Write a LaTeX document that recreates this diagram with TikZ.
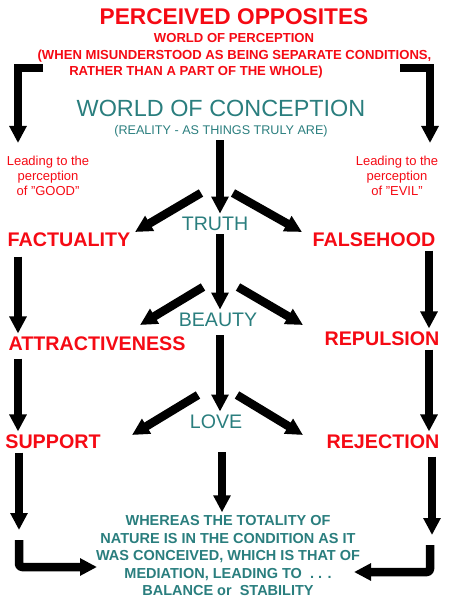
\documentclass[tikz,border=0pt]{standalone}
\usepackage{fontspec}
\setmainfont{Liberation Sans}
\usetikzlibrary{arrows.meta}
\definecolor{percred}{RGB}{245,10,20}
\definecolor{concteal}{RGB}{42,126,126}

\tikzset{
  flow/.style={line width=8.5pt, -{Triangle[length=17pt,width=16.5pt]}},
  bent/.style={flow, line join=round, rounded corners=3pt},
  redword/.style={text=percred, font=\bfseries\fontsize{19.7}{22}\selectfont},
  tealword/.style={text=concteal, font=\fontsize{19.6}{22}\selectfont},
  redsmall/.style={text=percred, font=\bfseries\fontsize{13.1}{15}\selectfont},
  leadnote/.style={text=percred, align=center, font=\fontsize{13}{15}\selectfont}
}

\begin{document}
\begin{tikzpicture}[x=1pt, y=-1pt]
\useasboundingbox (0,0) rectangle (450,609);

\coordinate (colL) at (18,0);
\coordinate (colR) at (429,0);
\coordinate (axis) at (220,0);

% headings
\node[text=percred, font=\bfseries\fontsize{22.7}{24}\selectfont] (title) at (234,17) {PERCEIVED OPPOSITES};
\node[redsmall] (perc) at (234,38) {WORLD OF PERCEPTION};
\node[redsmall] (when) at (234.5,56) {(WHEN MISUNDERSTOOD AS BEING SEPARATE CONDITIONS,};
\node[redsmall] (rather) at (196,72) {RATHER THAN A PART OF THE WHOLE)};
\node[text=concteal, font=\fontsize{23.4}{26}\selectfont] (concept) at (221,108) {WORLD OF CONCEPTION};
\node[text=concteal, font=\fontsize{12.6}{14}\selectfont] (reality) at (221,131) {(REALITY - AS THINGS TRULY ARE)};

\node[leadnote] (good) at (48,176) {Leading to the\\perception\\of {\char34}GOOD{\char34}};
\node[leadnote] (evil) at (397,176) {Leading to the\\perception\\of {\char34}EVIL{\char34}};

% the three levels
\node[tealword] (truth) at (215,224) {TRUTH};
\node[tealword] (beauty) at (218,320) {BEAUTY};
\node[tealword] (love) at (216,422) {LOVE};

\node[redword] (fact) at (69,240) {FACTUALITY};
\node[redword] (attr) at (97,344) {ATTRACTIVENESS};
\node[redword] (supp) at (53,442) {SUPPORT};

\node[redword] (false) at (374,240) {FALSEHOOD};
\node[redword] (repul) at (382,339) {REPULSION};
\node[redword] (reject) at (383,442) {REJECTION};

\node[text=concteal, align=center, font=\bfseries\fontsize{14.5}{17.5}\selectfont] (whole) at (228,556)
  {WHEREAS THE TOTALITY OF\\NATURE IS IN THE CONDITION AS IT\\WAS CONCEIVED, WHICH IS THAT OF\\MEDIATION, LEADING TO \ . . .\\BALANCE or \ STABILITY};

% free ends of the connectors
\coordinate (topL) at (43,68);
\coordinate (topR) at (400,68);
\coordinate (endL) at (18,143);
\coordinate (endR) at (430,143);
\coordinate (tA) at (201,193);
\coordinate (tB) at (233,193);
\coordinate (tC) at (135,232);
\coordinate (tD) at (302,232);
\coordinate (bA) at (203,287);
\coordinate (bB) at (238,287);
\coordinate (bC) at (140,325);
\coordinate (bD) at (303,325);
\coordinate (lA) at (198,395);
\coordinate (lB) at (237,395);
\coordinate (lC) at (132,435);
\coordinate (lD) at (303,435);
\coordinate (supEnd) at (19,530);
\coordinate (rejEnd) at (432,535);
\coordinate (cornL) at (19,540);
\coordinate (cornR) at (430,545);
\coordinate (inL) at (97,567);
\coordinate (inR) at (354,572);

\draw[flow, line join=miter] (topL) -- (endL |- topL) -- (endL);
\draw[flow, line join=miter] (topR) -- (endR |- topR) -- (endR);

\draw[flow] (reality.south -| axis) -- (truth.north -| axis);
\draw[flow] (tA) -- (tC);
\draw[flow] (tB) -- (tD);
\draw[flow] (truth.south -| axis) -- (beauty.north -| axis);
\draw[flow] (bA) -- (bC);
\draw[flow] (bB) -- (bD);
\draw[flow, shorten <=5pt] (beauty.south -| axis) -- (love.north -| axis);
\draw[flow] (lA) -- (lC);
\draw[flow] (lB) -- (lD);
\draw[flow, shorten <=20pt] ([xshift=2pt]love.south -| axis) -- ([xshift=2pt]whole.north -| axis);

\draw[flow, shorten <=6pt] (fact.south -| colL) -- (attr.north -| colL);
\draw[flow, shorten <=4pt] (attr.south -| colL) -- (supp.north -| colL);
\draw[flow] ([xshift=1pt]supp.south -| colL) -- (supEnd);
\draw[flow] (false.south -| colR) -- (repul.north -| colR);
\draw[flow] (repul.south -| colR) -- (reject.north -| colR);
\draw[flow, shorten <=4pt] ([xshift=3pt]reject.south -| colR) -- (rejEnd);

\draw[bent] (cornL) -- (cornL |- inL) -- (inL);
\draw[bent] (cornR) -- (cornR |- inR) -- (inR);
\end{tikzpicture}
\end{document}
